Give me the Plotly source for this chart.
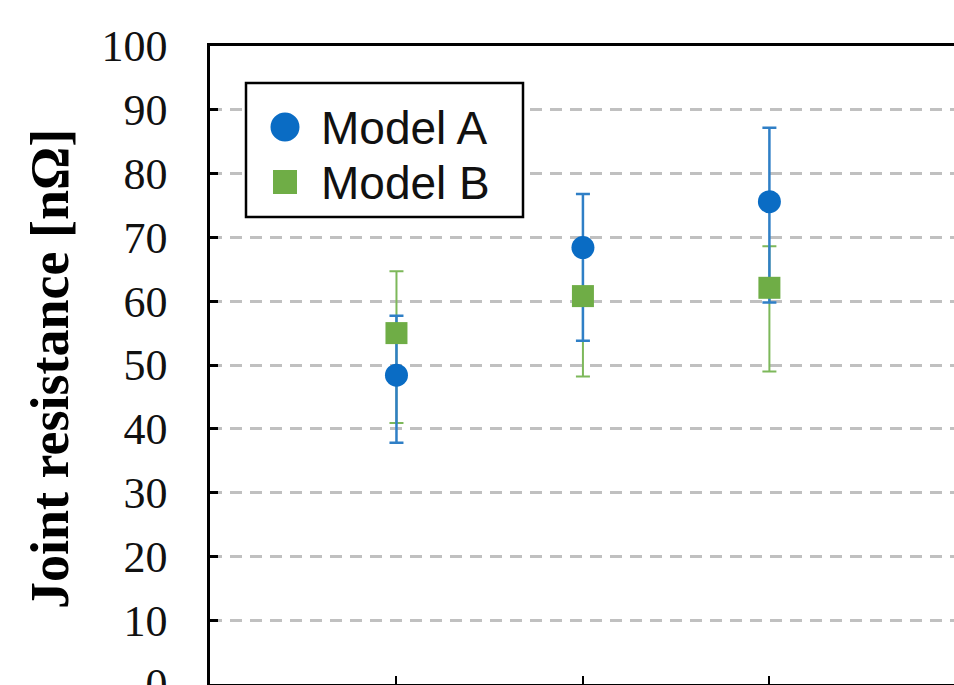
import plotly.graph_objects as go

categories = [1, 2, 3]
model_a = [48.4, 68.4, 75.6]
model_a_plus = [9.3, 8.4, 11.6]
model_a_minus = [10.6, 14.6, 15.8]
model_b = [55.0, 60.8, 62.1]
model_b_plus = [9.7, 7.7, 6.5]
model_b_minus = [14.1, 12.6, 13.1]
y_ticks = [0, 10, 20, 30, 40, 50, 60, 70, 80, 90, 100]

BLUE = "#0a6cc4"
BLUE_ERR = "#2f7fc6"
GREEN = "#6fad46"
GREEN_ERR = "#7db85a"

fig = go.Figure()
# error bars: green below blue
fig.add_trace(go.Scatter(
    x=categories, y=model_b, mode="markers",
    marker=dict(color="rgba(0,0,0,0)", size=1),
    error_y=dict(type="data", array=model_b_plus, arrayminus=model_b_minus,
                 color=GREEN_ERR, thickness=2, width=7),
    showlegend=False, hoverinfo="skip"))
fig.add_trace(go.Scatter(
    x=categories, y=model_a, mode="markers",
    marker=dict(color="rgba(0,0,0,0)", size=1),
    error_y=dict(type="data", array=model_a_plus, arrayminus=model_a_minus,
                 color=BLUE_ERR, thickness=2.5, width=7),
    showlegend=False, hoverinfo="skip"))
fig.add_trace(go.Scatter(
    x=categories, y=model_b, mode="markers", name="Model B",
    marker=dict(symbol="square", color=GREEN, size=22), showlegend=False))
fig.add_trace(go.Scatter(
    x=categories, y=model_a, mode="markers", name="Model A",
    marker=dict(symbol="circle", color=BLUE, size=23), showlegend=False))

fig.update_layout(
    width=954, height=685,
    margin=dict(l=210, r=0, t=46, b=1, autoexpand=False),
    paper_bgcolor="white", plot_bgcolor="white",
    xaxis=dict(range=[0, 3.99], tickvals=categories, showticklabels=False,
               ticks="inside", ticklen=8, tickwidth=2, tickcolor="black",
               showgrid=False, zeroline=False, automargin=False,
               showline=True, linecolor="black", linewidth=2.5, mirror=True),
    yaxis=dict(range=[0, 100], tickvals=y_ticks, automargin=False,
               ticks="inside", ticklen=8, tickwidth=2.5, tickcolor="black",
               tickfont=dict(family="Liberation Serif", size=44, color="#111"),
               ticklabelstandoff=31, ticklabeloverflow="allow",
               showgrid=True, gridcolor="#c0c0c0", gridwidth=2.5, griddash="12px,8px",
               zeroline=False, showline=True, linecolor="black", linewidth=2.5,
               mirror=False),
)

# y-axis title
fig.add_annotation(text="<b>Joint resistance [nΩ]</b>", xref="paper", yref="paper",
                   x=(50 - 210) / 744, y=(684 - 369) / 638, textangle=-90, showarrow=False,
                   xanchor="center", yanchor="middle",
                   font=dict(family="Liberation Serif", size=54, color="black"))

# custom legend
def px_x(v):
    return (v - 210) / 744

def px_y(v):
    return (684 - v) / 638

fig.add_shape(type="rect", xref="paper", yref="paper",
              x0=px_x(246), x1=px_x(523), y0=px_y(217), y1=px_y(83),
              line=dict(color="black", width=2.5), fillcolor="white", layer="above")
fig.add_shape(type="circle", xref="paper", yref="paper",
              x0=px_x(285 - 14.5), x1=px_x(285 + 14.5),
              y0=px_y(127 + 14.5), y1=px_y(127 - 14.5),
              line=dict(width=0), fillcolor=BLUE, layer="above")
fig.add_shape(type="rect", xref="paper", yref="paper",
              x0=px_x(285 - 12), x1=px_x(285 + 12),
              y0=px_y(182 + 12), y1=px_y(182 - 12),
              line=dict(width=0), fillcolor=GREEN, layer="above")
for label, yy in [("Model A", 128), ("Model B", 183)]:
    fig.add_annotation(text=label, xref="paper", yref="paper", x=px_x(319), y=px_y(yy),
                       xanchor="left", yanchor="middle", showarrow=False,
                       font=dict(family="Liberation Sans", size=46, color="#111"))

fig.write_html("out.html", config={"displayModeBar": False},
               post_script="document.body.style.margin='0';document.body.style.overflow='hidden';")
